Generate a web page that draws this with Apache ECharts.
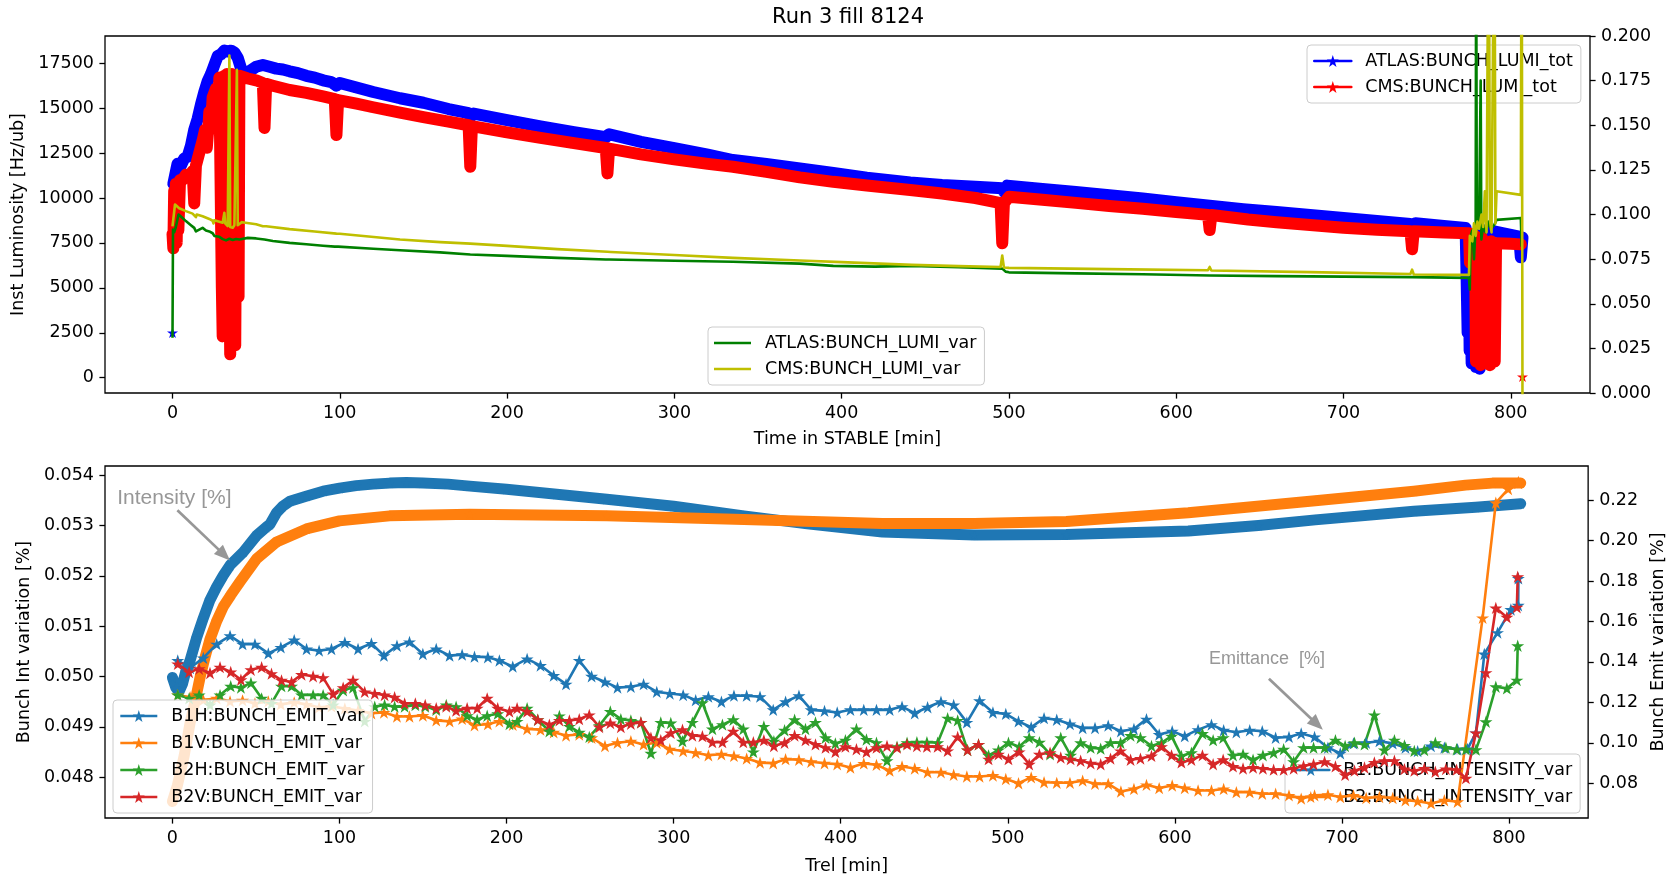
<!DOCTYPE html>
<html>
<head>
<meta charset="utf-8">
<script src="https://cdn.jsdelivr.net/npm/echarts@6/dist/echarts.min.js"></script>
<style>
  html, body { margin: 0; padding: 0; background: #fff; }
  #chart { width: 1675px; height: 876px; }
</style>
</head>
<body>
<div id="chart"></div>
<script>
// ---------------- data: luminosity (top panel) ----------------
// [time in STABLE (min), inst. luminosity (Hz/ub)]
const atlasLumiTot = [[0,2500],[0.2,null],[0.5,10800],[1.5,10700],[3,11900],[5,11800],[7,12200],[9,12300],[11,12900],[13,13800],[15,14400],[17,15200],[19,15900],[21,16500],[23,16900],[25,17400],[27,17900],[29,18000],[31,18200],[33,18150],[35,18200],[37,18100],[39,17800],[41,17200],[43,16900],[46,17050],[50,17300],[54,17400],[58,17300],[62,17200],[66,17150],[70,17050],[75,16950],[80,16800],[85,16700],[90,16550],[95,16450],[98,16250],[100,16400],[110,16150],[120,15900],[136,15550],[150,15300],[165,14950],[177,14720],[178,14500],[180,14700],[200,14330],[220,13980],[240,13660],[259,13380],[261,13550],[280,13120],[300,12780],[320,12410],[335,12115],[355,11900],[375,11650],[395,11400],[415,11130],[441,10870],[460,10720],[480,10620],[496,10540],[497,10350],[499,10690],[520,10500],[540,10330],[560,10150],[580,9970],[600,9760],[620,9570],[640,9380],[660,9220],[680,9050],[700,8890],[720,8720],[740,8560],[741,8400],[743,8600],[760,8450],[773,8330],[773.6,5500],[774.2,2500],[774.8,7000],[775.4,1500],[776,4000],[776.6,800],[777.2,6000],[777.8,1200],[778.4,3000],[779,600],[779.6,5000],[780.2,1000],[780.8,2500],[781.4,500],[782,2000],[783,8200],[790,8150],[800,7950],[805,7850],[806,6700],[807,7800]];
const cmsLumiTot = [[0,8000],[0.5,7200],[1,10400],[1.5,8500],[2,10800],[2.5,7500],[3,10800],[3.5,8200],[4.5,11000],[6,11000],[8,11300],[10,11200],[12,11500],[13,9700],[14,11800],[16,12500],[18,13200],[19.5,13800],[20.5,12800],[21.5,14000],[22,14800],[23,13900],[24,15600],[26,16100],[27,13800],[28,16700],[29,16800],[29.5,5000],[30,2300],[30.5,9000],[31,16800],[31.5,4000],[32,2600],[32.5,16900],[33.5,16900],[34,6000],[34.5,1300],[35,9000],[35.5,16900],[36.5,16900],[37,3000],[37.5,1800],[38,10000],[38.5,16800],[39.5,4500],[40,16800],[45,16650],[50,16550],[54,16400],[55,13900],[56,16350],[60,16250],[70,16010],[80,15850],[90,15650],[97,15500],[98,13500],[99,15450],[110,15250],[120,15050],[136,14750],[150,14500],[165,14250],[177,14050],[178,11740],[179,14000],[200,13650],[220,13350],[240,13050],[259,12780],[260,11370],[261,12750],[280,12430],[300,12150],[320,11900],[335,11740],[355,11450],[375,11150],[395,10900],[415,10700],[441,10450],[460,10250],[480,10000],[495,9720],[496,7480],[497,9700],[500,10070],[520,9900],[540,9730],[560,9560],[580,9400],[600,9220],[619,9060],[620,8220],[621,9050],[643,8800],[660,8650],[680,8500],[700,8350],[720,8230],[740,8150],[741,7150],[742,8150],[760,8080],[775,8035],[775.6,6400],[776.5,8000],[778.6,7900],[779.2,900],[779.9,7500],[780.6,1500],[781.3,6500],[782,700],[782.7,7800],[783.4,1200],[784.1,5500],[784.8,800],[785.5,7200],[786.2,1500],[786.9,4500],[787.6,700],[788.3,7600],[789,1500],[789.7,6000],[790.4,900],[791.2,7480],[800,7450],[806,7420],[806.5,null],[807,50]];
// [time (min), luminosity variation]
const atlasLumiVar = [[0,0.031],[0.3,0.0916],[1,0.090],[2,0.093],[3.6,0.100],[6,0.098],[8,0.0963],[11,0.094],[13,0.0925],[14,0.0905],[15,0.0916],[18,0.0925],[20,0.091],[22,0.0905],[24,0.0895],[25,0.0880],[26,0.0888],[28,0.0875],[30,0.0862],[32,0.0855],[34,0.0864],[36,0.0857],[38,0.0863],[40,0.0860],[45,0.0869],[50,0.0866],[55,0.0860],[60,0.0852],[70,0.0841],[80,0.0833],[90,0.0825],[97,0.0820],[98,0.0812],[99,0.0820],[120,0.0808],[136,0.0800],[160,0.0788],[178,0.0776],[200,0.0768],[230,0.0757],[259,0.0748],[260,0.0738],[261,0.0748],[300,0.0741],[335,0.0735],[375,0.0725],[395,0.0712],[420,0.0708],[442,0.0712],[470,0.0705],[496,0.0697],[498,0.0680],[500,0.0676],[540,0.0670],[580,0.0665],[620,0.0658],[660,0.0655],[700,0.0652],[741,0.0649],[742,0.0643],[775,0.0645],[775.5,0.058],[776,0.088],[777,0.091],[778,0.075],[779,0.094],[779.3,0.26],[779.7,0.092],[781,0.093],[782,0.175],[782.4,0.086],[783.5,0.094],[785,0.090],[786.5,0.096],[788,0.092],[790,0.094],[791.5,0.097],[792.5,0.098],[806,0.098],[806.5,0.082]];
const cmsLumiVar = [[0,0.0934],[1.5,0.1056],[4,0.1035],[8,0.1019],[12,0.1005],[14,0.0985],[14.5,0.1000],[18,0.0990],[22,0.0975],[24,0.0965],[24.5,0.0950],[25,0.0968],[28,0.0960],[30,0.0954],[31,0.1010],[31.5,0.0950],[33,0.0935],[34,0.1890],[34.5,0.0930],[36,0.0926],[37,0.0940],[38.5,0.1810],[39,0.0940],[41.5,0.0957],[50,0.0945],[54,0.0934],[55,0.0925],[56,0.0934],[70,0.0918],[85,0.0905],[98,0.0893],[99,0.0885],[100,0.0892],[136,0.0860],[160,0.0845],[178,0.0837],[179,0.0830],[200,0.0824],[230,0.0806],[260,0.0791],[261,0.0780],[262,0.0790],[300,0.0773],[335,0.0757],[375,0.0742],[400,0.0733],[442,0.0718],[470,0.0711],[495,0.0706],[496,0.0770],[497,0.0703],[500,0.0701],[560,0.0694],[619,0.0688],[620,0.0706],[621,0.0686],[680,0.0677],[740,0.0667],[741,0.0691],[742,0.0664],[775,0.0662],[775.5,0.088],[777,0.085],[778,0.095],[779,0.088],[780,0.096],[781,0.092],[782.5,0.100],[783.5,0.093],[784.5,0.113],[785.5,0.090],[786.8,0.30],[787.5,0.097],[788.5,0.090],[790.2,0.30],[790.8,0.095],[791.5,0.113],[806,0.111],[806.5,0.30],[807,-0.01]];

// ---------------- data: bunch intensity / emittance (bottom panel) ----------------
// [Trel (min), intensity variation (%)]
const b1Intensity = [[0,0.04998],[2,0.04978],[4,0.04970],[6,0.04985],[8,0.05010],[10.6,0.05032],[14.5,0.05077],[18.5,0.05116],[22.5,0.05152],[26.5,0.05178],[30.5,0.05201],[34.5,0.05221],[42.4,0.05247],[50.4,0.05280],[56,0.05296],[58.3,0.05302],[62.3,0.05325],[66,0.05338],[70.3,0.05348],[80,0.05358],[90.2,0.05368],[100,0.05374],[110,0.05379],[120,0.05382],[130,0.05384],[140,0.05385],[150,0.05384],[165,0.05382],[178,0.05378],[200,0.05372],[230,0.05362],[260,0.05352],[300,0.05338],[342,0.05319],[380,0.05303],[425,0.05287],[480,0.05281],[535,0.05282],[608,0.05289],[650,0.05300],[684,0.05311],[743,0.05328],[780,0.05336],[807,0.05343]];
const b2Intensity = [[0,0.04752],[3,0.04784],[7,0.04842],[10.6,0.04908],[13.5,0.04950],[16.6,0.04999],[19.5,0.05038],[22.5,0.05074],[26.5,0.05110],[30.5,0.05139],[35,0.05162],[40.4,0.05188],[50.4,0.05234],[62.3,0.05267],[80.2,0.05293],[100,0.05309],[130,0.05319],[178,0.05322],[260,0.05319],[342,0.05312],[425,0.05304],[480,0.05304],[535,0.05308],[608,0.05325],[684,0.05349],[743,0.05368],[774,0.05380],[790,0.05384],[807,0.05384]];

// [Trel (min), emittance variation (%)] for beam 1
const b1hEmit = [[3.2,0.1407],[10.6,0.1370],[18.5,0.1420],[26.5,0.1488],[34.5,0.1529],[42,0.1488],[49.4,0.1488],[57.4,0.1442],[64.9,0.1472],[72.9,0.1508],[80.3,0.1464],[87.8,0.1456],[95.2,0.1464],[103.2,0.1496],[111.1,0.1464],[119.1,0.1491],[126.6,0.1431],[134.4,0.1480],[141.9,0.1499],[149.9,0.1439],[157.9,0.1464],[165.9,0.1431],[173.4,0.1436],[180.8,0.1426],[188.8,0.1423],[195.7,0.1407],[203.7,0.1377],
  [212.3,0.1415],[220.3,0.1382],[228.2,0.1333],[235.6,0.1290],[243.5,0.1407],[250.9,0.1329],[258.9,0.1301],[266.4,0.1273],[274.4,0.1277],[282,0.1290],[289.9,0.1252],[297.7,0.1244],[305.7,0.1236],[313.2,0.1211],[320.8,0.1228],[328.6,0.1203],[336.1,0.1233],[343.7,0.1233],[351.7,0.1228],[359.6,0.1163],[367,0.1203],[375,0.1233],[382.3,0.1163],[390.3,0.1158],[397.9,0.1150],[405.8,0.1163],
  [413.8,0.1163],[421.4,0.1163],[429.3,0.1163],[436.7,0.1179],[444.3,0.1146],[452,0.1176],[460,0.1203],[467.6,0.1187],[475.5,0.1101],[483.1,0.1208],[491.1,0.1150],[498.8,0.1143],[506.4,0.1106],[514,0.1077],[521.7,0.1122],[529.3,0.1114],[537.2,0.1093],[544.8,0.1073],[552.2,0.1073],[560.1,0.1085],[567.7,0.1057],[575.5,0.1068],[583,0.1117],[590.6,0.1041],[598.4,0.1057],[605.9,0.1033],
  [613.9,0.1065],[621.9,0.1090],[629.2,0.1062],[636.8,0.1052],[644.8,0.1062],[652.3,0.1057],[660.3,0.1025],[668.3,0.1029],[675.6,0.1046],[683.6,0.1029],[691.6,0.0976],[699,0.0948],[706.9,0.0997],[714.5,0.1000],[722.4,0.1008],[730.4,0.0997],[738,0.0976],[745.3,0.0959],[753.3,0.0984],[761.3,0.0976],[769.2,0.0968],[775.2,0.0970],[780.2,0.1049],[785.2,0.1439],[793.1,0.1545],[801.1,0.1659],[805.5,0.1680],[805.6,0.1813]];
const b1vEmit = [[3.2,0.1236],[10.6,0.1225],[18.5,0.1212],[26.5,0.1220],[34.5,0.1205],[42,0.1210],[49.4,0.1195],[57.4,0.1205],[64.9,0.1190],[72.9,0.1200],[80.3,0.1190],[87.8,0.1175],[95.2,0.1180],[103.2,0.1170],[111.1,0.1160],[119.1,0.1146],[126.6,0.1150],[134.4,0.1130],[141.9,0.1130],[149.9,0.1135],[157.9,0.1111],[165.9,0.1106],[173.4,0.1118],[180.8,0.1087],[188.8,0.1092],[195.7,0.1106],[203.7,0.1089],
  [212.3,0.1068],[220.3,0.1065],[228.2,0.1052],[235.6,0.1036],[243.5,0.1041],[250.9,0.1025],[258.9,0.0984],[266.4,0.1000],[274.4,0.1008],[282,0.0992],[289.9,0.1000],[297.7,0.0968],[305.7,0.0959],[313.2,0.0951],[320.8,0.0938],[328.6,0.0943],[336.1,0.0935],[343.7,0.0922],[351.7,0.0902],[359.6,0.0899],[367,0.0919],[375,0.0916],[382.3,0.0906],[390.3,0.0899],[397.9,0.0894],[405.8,0.0878],
  [413.8,0.0898],[421.4,0.0891],[429.3,0.0862],[436.7,0.0883],[444.3,0.0873],[452,0.0854],[460,0.0854],[467.6,0.0842],[475.5,0.0833],[483.1,0.0833],[491.1,0.0838],[498.8,0.0821],[506.4,0.0800],[514,0.0829],[521.7,0.0805],[529.3,0.0802],[537.2,0.0802],[544.8,0.0813],[552.2,0.0797],[560.1,0.0797],[567.7,0.0759],[575.5,0.0772],[583,0.0792],[590.6,0.0776],[598.4,0.0789],[605.9,0.0776],
  [613.9,0.0764],[621.9,0.0764],[629.2,0.0772],[636.8,0.0756],[644.8,0.0756],[652.3,0.0748],[660.3,0.0748],[668.3,0.0740],[675.6,0.0724],[683.6,0.0740],[691.6,0.0743],[699,0.0732],[706.9,0.0740],[714.5,0.0727],[722.4,0.0732],[730.4,0.0727],[738,0.0716],[745.3,0.0711],[753.3,0.0700],[761.3,0.0716],[769.2,0.0708],[784.2,0.1618],[792.1,0.2187],[799.5,0.2255],[805.5,0.2285],[805.6,0.2290]];

// beam 2 emittance: shared sampling times and per-plane values
const b2Time = [3.2,10,16,22.5,28.5,34.9,41,47,53.4,59.3,65.3,71.3,77.3,84.2,90.2,96.2,102.2,108.1,115.1,121.1,127,133,139,145.4,151.3,157.9,163.9,169.8,176.4,182.4,188.4,194.7,201.7,
  206.3,212.3,218.7,225.6,231.6,237.6,243.5,249.5,255.5,262.1,268.4,274.4,280.4,286.4,292.3,298.3,305.3,311.2,317.2,323.2,329.2,335.7,341.7,347.7,354,360,366.4,372.4,378.9,384.9,390.9,396.8,402.8,
  409.4,415.4,421.4,427.7,433.7,439.7,445.6,451.6,458,464,470,475.9,482.5,488.5,494.4,500.4,506.8,512.8,518.9,525.3,531.7,537.6,543.6,549.6,555.6,561.5,567.5,573.5,579.4,586,592,598,603.9,609.9,
  616.5,622.9,628.9,634.8,640.8,646.8,652.7,659.1,665.1,671.1,677,683,689.6,696.1,701.9,707.5,713.5,719.4,725.4,731.4,737.4,743.3,749.3,755.9,762.2,768.6,774.2,780.2,786.2,792.1,798.7,804.7,805.2];
const b2hEmit = [0.1236,0.1220,0.1236,0.1187,0.1236,0.1280,0.1273,0.1296,0.1220,0.1195,0.1280,0.1280,0.1236,0.1236,0.1236,0.1187,0.1260,0.1273,0.1106,0.1179,0.1187,0.1179,0.1179,0.1187,0.1179,0.1163,0.1187,0.1179,0.1134,0.1114,0.1134,0.1144,0.1093,
  0.1106,0.1171,0.1114,0.1057,0.1133,0.1081,0.1052,0.1029,0.1085,0.1155,0.1117,0.1111,0.1101,0.0948,0.1101,0.1098,0.1008,0.1101,0.1198,0.1068,0.1090,0.1114,0.1068,0.0955,0.1081,0.1008,0.1062,0.1114,0.1068,0.1101,0.1025,0.0997,0.1013,
  0.1068,0.1016,0.1000,0.0911,0.0981,0.1000,0.1003,0.1003,0.1000,0.1122,0.1111,0.0964,0.0992,0.0938,0.0964,0.1000,0.0981,0.1025,0.1003,0.0943,0.1025,0.0938,0.1000,0.0976,0.0971,0.1000,0.1000,0.1036,0.1025,0.0984,0.1000,0.1033,0.0935,0.0951,
  0.1046,0.1013,0.1025,0.0938,0.0943,0.0916,0.0938,0.0951,0.0968,0.0906,0.0976,0.0976,0.0976,0.1013,0.0984,0.1000,0.0992,0.1138,0.0964,0.1013,0.0987,0.0960,0.0964,0.1000,0.0976,0.0968,0.0968,0.0966,0.1104,0.1277,0.1269,0.1310,0.1480];
const b2vEmit = [0.1390,0.1350,0.1366,0.1345,0.1374,0.1350,0.1312,0.1361,0.1374,0.1342,0.1309,0.1301,0.1338,0.1329,0.1322,0.1241,0.1273,0.1309,0.1252,0.1244,0.1236,0.1225,0.1195,0.1195,0.1187,0.1171,0.1179,0.1159,0.1171,0.1171,0.1220,0.1171,0.1155,
  0.1171,0.1155,0.1114,0.1090,0.1111,0.1111,0.1117,0.1138,0.1078,0.1098,0.1078,0.1094,0.1101,0.1025,0.1013,0.1049,0.1065,0.1036,0.1033,0.1003,0.1003,0.1057,0.1003,0.1003,0.1013,0.0984,0.1000,0.1036,0.1013,0.0992,0.0976,0.0955,0.0981,
  0.0968,0.0955,0.0976,0.0984,0.0976,0.0992,0.0984,0.0981,0.0981,0.0960,0.1029,0.0964,0.0992,0.0919,0.0943,0.0919,0.0955,0.0894,0.0943,0.0951,0.0927,0.0919,0.0911,0.0899,0.0894,0.0922,0.0960,0.0916,0.0922,0.0935,0.0981,0.0938,0.0903,0.0916,
  0.0938,0.0894,0.0916,0.0883,0.0873,0.0878,0.0873,0.0867,0.0867,0.0873,0.0886,0.0894,0.0906,0.0883,0.0841,0.0862,0.0878,0.0903,0.0911,0.0911,0.0870,0.0862,0.0873,0.0857,0.0870,0.0867,0.0825,0.1049,0.1347,0.1667,0.1621,0.1670,0.1821];

// ---------------- tick values ----------------
const timeTicks = [0, 100, 200, 300, 400, 500, 600, 700, 800];
const lumiTicks = [0, 2500, 5000, 7500, 10000, 12500, 15000, 17500];
const lumiVarTicks = [0, 0.025, 0.05, 0.075, 0.1, 0.125, 0.15, 0.175, 0.2];
const intTicks = [0.048, 0.049, 0.05, 0.051, 0.052, 0.053, 0.054];
const emitTicks = [0.08, 0.1, 0.12, 0.14, 0.16, 0.18, 0.2, 0.22];

// ---------------- styling helpers ----------------
const FONT = 'DejaVu Sans';
const FS = 17.5;
const STAR = 'path://M0,-1L0.2245,-0.309L0.9511,-0.309L0.3633,0.118L0.5878,0.809L0,0.382L-0.5878,0.809L-0.3633,0.118L-0.9511,-0.309L-0.2245,-0.309Z';
// plain line handle for legends of marker-less series (thin bar centred in a unit box)
const LINE_ICON = 'path://M0,0L0.001,0L0,0.001Z M0,0.41L1,0.41L1,0.59L0,0.59Z M1,1L0.999,1L1,0.999Z';
const GREY = '#979797';

function axisCommon(ticks, fmt) {
  return {
    type: 'value',
    axisLine: { show: false, onZero: false },
    splitLine: { show: false },
    axisTick: { show: true, inside: false, length: 5.6, lineStyle: { color: '#000', width: 1.3 }, customValues: ticks },
    axisLabel: { customValues: ticks, margin: 11, fontSize: FS, fontFamily: FONT, color: '#000', formatter: fmt }
  };
}
const nameStyle = { fontSize: FS, fontFamily: FONT, color: '#000' };

function legendBox(names, left, top, z, gap, plainLines) {
  return {
    data: names, orient: 'vertical', left: left, top: top, z: z,
    selectedMode: false,
    itemWidth: 37, itemHeight: 15, itemGap: gap,
    symbolKeepAspect: !plainLines,
    padding: [6, 8, 6, 6],
    backgroundColor: 'rgba(255,255,255,0.8)',
    borderColor: '#cccccc', borderWidth: 1, borderRadius: 4,
    lineStyle: { width: 2.6 },
    textStyle: { fontSize: FS, fontFamily: FONT, color: '#000', lineHeight: 20, padding: [0, 0, 0, 9] }
  };
}

function bandSeries(name, data, color, xi, yi, width, z) {
  return {
    name: name, type: 'line', data: data, xAxisIndex: xi, yAxisIndex: yi, z: z,
    color: color, lineStyle: { width: width, join: 'round', cap: 'round' },
    symbol: STAR, symbolSize: 11, symbolKeepAspect: true, showSymbol: true, showAllSymbol: true,
    itemStyle: { color: color }, connectNulls: false, silent: true
  };
}
function thinSeries(name, data, color, xi, yi, withStar) {
  return {
    name: name, type: 'line', data: data, xAxisIndex: xi, yAxisIndex: yi, z: 4,
    color: color, lineStyle: { width: 2.6, join: 'round' },
    symbol: withStar ? STAR : 'none', symbolSize: 13, symbolKeepAspect: true,
    showSymbol: !!withStar, showAllSymbol: true, itemStyle: { color: color }, silent: true
  };
}

const b2hPairs = b2Time.map((t, i) => [t, b2hEmit[i]]);
const b2vPairs = b2Time.map((t, i) => [t, b2vEmit[i]]);

// annotation arrows (data coordinates of the panel they belong to)
const intensityNote = { text: 'Intensity [%]', at: [1.14, 0.053532], from: [2.99, 0.053303], to: [31.0, 0.052415] };
const emittanceNote = { text: 'Emittance  [%]', at: [655.1, 0.141463], from: [656.3, 0.13171], to: [685.1, 0.10922] };

function noteMarks(note, size) {
  return {
    markLine: {
      silent: true, symbol: ['none', 'triangle'], symbolSize: [13, 16],
      lineStyle: { color: GREY, width: 2.7, type: 'solid' }, label: { show: false },
      emphasis: { disabled: true },
      data: [[{ coord: note.from }, { coord: note.to }]]
    },
    markPoint: {
      silent: true, symbol: 'circle', symbolSize: 0,
      label: { show: true, position: 'inside', formatter: note.text, color: GREY, fontSize: size, fontFamily: 'Liberation Sans' },
      data: [{ coord: note.at }]
    }
  };
}

const chart = echarts.init(document.getElementById('chart'), null, { renderer: 'canvas' });

const b1IntSeries = Object.assign(bandSeries('B1:BUNCH_INTENSITY_var', b1Intensity, '#1f77b4', 1, 2, 11, 1), noteMarks(intensityNote, 21));
const b1hSeries = Object.assign(thinSeries('B1H:BUNCH_EMIT_var', b1hEmit, '#1f77b4', 1, 3, true), noteMarks(emittanceNote, 18));

chart.setOption({
  animation: false,
  backgroundColor: '#fff',
  graphic: [{
    type: 'text', x: 848, y: 18,
    style: { text: 'Run 3 fill 8124', fill: '#000', font: '21px "DejaVu Sans"', align: 'center', verticalAlign: 'middle' }
  }],
  grid: [
    { left: 105, top: 36, width: 1485, height: 357, show: true, borderColor: '#000', borderWidth: 1.3, backgroundColor: 'transparent' },
    { left: 105, top: 466, width: 1484, height: 357, show: true, borderColor: '#000', borderWidth: 1.3, backgroundColor: 'transparent' }
  ],
  xAxis: [
    Object.assign(axisCommon(timeTicks, v => String(v)), { gridIndex: 0, min: -40.35, max: 847.35,
      name: 'Time in STABLE [min]', nameLocation: 'middle', nameGap: 37, nameTextStyle: nameStyle }),
    Object.assign(axisCommon(timeTicks, v => String(v)), { gridIndex: 1, min: -40.35, max: 847.35,
      name: 'Trel [min]', nameLocation: 'middle', nameGap: 39, nameTextStyle: nameStyle })
  ],
  yAxis: [
    Object.assign(axisCommon(lumiTicks, v => String(v)), { gridIndex: 0, position: 'left', min: -851, max: 19015,
      name: 'Inst Luminosity [Hz/ub]', nameLocation: 'middle', nameRotate: 90, nameGap: 75, nameTextStyle: nameStyle }),
    Object.assign(axisCommon(lumiVarTicks, v => v.toFixed(3)), { gridIndex: 0, position: 'right', min: 0, max: 0.2 }),
    Object.assign(axisCommon(intTicks, v => v.toFixed(3)), { gridIndex: 1, position: 'left', min: 0.04719, max: 0.05418,
      name: 'Bunch Int variation [%]', nameLocation: 'middle', nameRotate: 90, nameGap: 68, nameTextStyle: nameStyle }),
    Object.assign(axisCommon(emitTicks, v => v.toFixed(2)), { gridIndex: 1, position: 'right', min: 0.0628, max: 0.2369,
      name: 'Bunch Emit variation [%]', nameLocation: 'middle', nameRotate: 90, nameGap: 56, nameTextStyle: nameStyle })
  ],
  legend: [
    legendBox(['ATLAS:BUNCH_LUMI_tot', 'CMS:BUNCH_LUMI_tot'], 1307, 45, 1, 6, false),
    legendBox([{ name: 'ATLAS:BUNCH_LUMI_var', icon: LINE_ICON }, { name: 'CMS:BUNCH_LUMI_var', icon: LINE_ICON }], 708, 327, 6, 6, true),
    legendBox(['B1H:BUNCH_EMIT_var', 'B1V:BUNCH_EMIT_var', 'B2H:BUNCH_EMIT_var', 'B2V:BUNCH_EMIT_var'], 113, 700, 6, 7, false),
    legendBox(['B1:BUNCH_INTENSITY_var', 'B2:BUNCH_INTENSITY_var'], 1285, 754, 1, 7, false)
  ],
  series: [
    bandSeries('ATLAS:BUNCH_LUMI_tot', atlasLumiTot, '#0000ff', 0, 0, 12, 1),
    bandSeries('CMS:BUNCH_LUMI_tot', cmsLumiTot, '#ff0000', 0, 0, 12, 2),
    thinSeries('ATLAS:BUNCH_LUMI_var', atlasLumiVar, '#008000', 0, 1, false),
    thinSeries('CMS:BUNCH_LUMI_var', cmsLumiVar, '#bfbf00', 0, 1, false),
    b1IntSeries,
    bandSeries('B2:BUNCH_INTENSITY_var', b2Intensity, '#ff7f0e', 1, 2, 11, 2),
    b1hSeries,
    thinSeries('B1V:BUNCH_EMIT_var', b1vEmit, '#ff7f0e', 1, 3, true),
    thinSeries('B2H:BUNCH_EMIT_var', b2hPairs, '#2ca02c', 1, 3, true),
    thinSeries('B2V:BUNCH_EMIT_var', b2vPairs, '#d62728', 1, 3, true)
  ]
});
</script>
</body>
</html>
